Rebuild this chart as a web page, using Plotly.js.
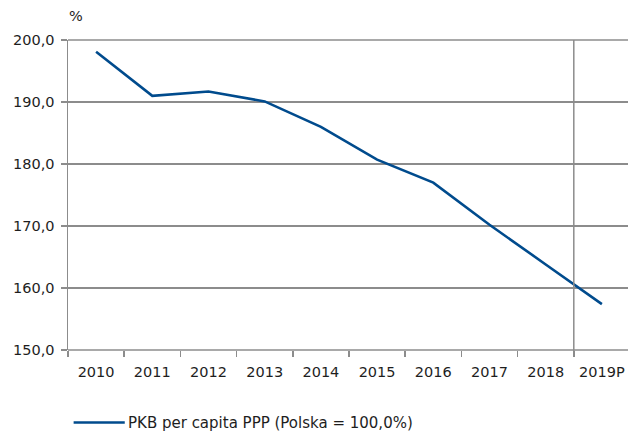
<!DOCTYPE html>
<html>
<head>
<meta charset="utf-8">
<script src="https://cdn.plot.ly/plotly-3.0.1.min.js"></script>
<style>
  html, body { margin: 0; padding: 0; overflow: hidden; background: #fff; }
  #chart { width: 634px; height: 432px; }
</style>
</head>
<body>
<div id="chart"></div>
<script>
// PKB per capita PPP, Polska = 100%
const years = ["2010", "2011", "2012", "2013", "2014", "2015", "2016", "2017", "2018", "2019P"];
const gdpRatio = [198.1, 191.0, 191.7, 190.1, 186.0, 180.7, 177.0, 170.2, 163.8, 157.4];
const seriesName = "PKB per capita PPP (Polska = 100,0%)";
const yTicks = [150, 160, 170, 180, 190, 200];

const gridColor = "#8c8c8c";
const textColor = "#1e1e1e";
const lineColor = "#004b8d";
const fontFamily = "DejaVu Sans, sans-serif";

const traces = [
  {
    type: "scatter",
    mode: "lines",
    x: years,
    y: gdpRatio,
    name: seriesName,
    line: { color: lineColor, width: 2.6 },
    hoverinfo: "skip",
    showlegend: false,
  },
];

// separator between actual and forecast years
const splitAt = years.length - 1.5;

// hand drawn legend (plotly's own legend pushes the bottom margin)
const legendY = -0.234;

const layout = {
  width: 634,
  height: 432,
  margin: { l: 68, r: 4, t: 40, b: 82 },
  paper_bgcolor: "#ffffff",
  plot_bgcolor: "#ffffff",
  font: { family: fontFamily, size: 14.5, color: textColor },
  separators: ",.",
  showlegend: false,
  xaxis: {
    type: "category",
    range: [-0.5, years.length - 0.5],
    showgrid: false,
    zeroline: false,
    showline: false,
    ticks: "outside",
    tickson: "boundaries",
    ticklen: 6,
    tickwidth: 1.5,
    tickcolor: gridColor,
    ticklabelstandoff: 11,
    tickfont: { size: 14.5 },
  },
  yaxis: {
    range: [150, 200],
    tickvals: yTicks,
    tickformat: ".1f",
    showgrid: true,
    gridcolor: gridColor,
    gridwidth: 1.5,
    zeroline: false,
    showline: true,
    linecolor: gridColor,
    linewidth: 1.5,
    ticks: "outside",
    ticklen: 6,
    tickwidth: 1.5,
    tickcolor: gridColor,
    ticklabelstandoff: 3,
    tickfont: { size: 14.5 },
  },
  shapes: [
    {
      type: "line",
      xref: "x",
      yref: "paper",
      x0: splitAt,
      x1: splitAt,
      y0: -0.02,
      y1: 1,
      line: { color: gridColor, width: 1.5 },
    },
    {
      type: "line",
      xref: "paper",
      yref: "paper",
      x0: 0,
      x1: 1,
      y0: 0,
      y1: 0,
      line: { color: gridColor, width: 1.5 },
    },
    {
      type: "line",
      xref: "paper",
      yref: "paper",
      x0: 0,
      x1: 1,
      y0: 1,
      y1: 1,
      line: { color: gridColor, width: 1.5 },
    },
    {
      type: "line",
      xref: "paper",
      yref: "paper",
      x0: 0.01,
      x1: 0.101,
      y0: legendY,
      y1: legendY,
      line: { color: lineColor, width: 2.6 },
    },
  ],
  annotations: [
    {
      text: "%",
      xref: "paper",
      yref: "paper",
      x: -0.002,
      y: 1.078,
      xanchor: "left",
      yanchor: "middle",
      showarrow: false,
      font: { size: 14.5, color: textColor },
    },
    {
      text: seriesName,
      xref: "paper",
      yref: "paper",
      x: 0.104,
      y: legendY,
      xanchor: "left",
      yanchor: "middle",
      showarrow: false,
      font: { size: 15, color: textColor },
    },
  ],
};

const config = { staticPlot: true, displayModeBar: false };

Plotly.newPlot("chart", traces, layout, config);
</script>
</body>
</html>
